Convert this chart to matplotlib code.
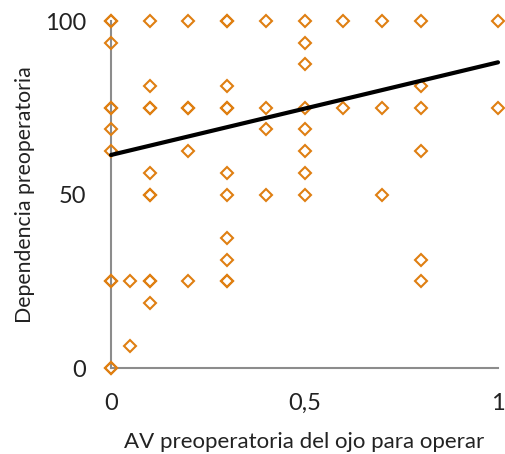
import numpy as np
import matplotlib
matplotlib.use("Agg")
import matplotlib.pyplot as plt

plt.rcParams['font.family'] = ['Lato', 'DejaVu Sans']

# visual acuity of the eye to operate vs. preoperative dependence score
av = [0, 0, 0.1, 0.2, 0.3, 0.3, 0.4, 0.5, 0.6, 0.7, 0.8, 1.0,
      0, 0.5,
      0.5,
      0.1, 0.3, 0.8,
      0, 0, 0.1, 0.1, 0.2, 0.2, 0.3, 0.3, 0.4, 0.5, 0.6, 0.7, 0.8, 1.0,
      0, 0.4, 0.5,
      0, 0.2, 0.5, 0.8,
      0.1, 0.3, 0.5,
      0.1, 0.1, 0.3, 0.4, 0.5, 0.7,
      0.3,
      0.3, 0.8,
      0, 0, 0.05, 0.1, 0.1, 0.2, 0.3, 0.3, 0.8,
      0.1,
      0.05,
      0, 0]
dep = [100, 100, 100, 100, 100, 100, 100, 100, 100, 100, 100, 100,
       93.75, 93.75,
       87.5,
       81.25, 81.25, 81.25,
       75, 75, 75, 75, 75, 75, 75, 75, 75, 75, 75, 75, 75, 75,
       68.75, 68.75, 68.75,
       62.5, 62.5, 62.5, 62.5,
       56.25, 56.25, 56.25,
       50, 50, 50, 50, 50, 50,
       37.5,
       31.25, 31.25,
       25, 25, 25, 25, 25, 25, 25, 25, 25,
       18.75,
       6.25,
       0, 0]

# linear trend line
trend_x = [0, 1]
trend_y = [61.4, 88.1]

x_ticks = [0, 0.5, 1]
x_tick_labels = ['0', '0,5', '1']
y_ticks = [0, 50, 100]

fig = plt.figure(figsize=(5.06, 4.54), dpi=100)
ax = fig.add_axes([0.2194, 0.1894, 0.7648, 0.7643])

ax.plot(av, dep, linestyle='none', marker='D', markersize=5.8,
        markerfacecolor='none', markeredgecolor='#DF7F12',
        markeredgewidth=1.5, clip_on=False, zorder=3)
ax.plot(trend_x, trend_y, color='black', linewidth=3,
        solid_capstyle='round', zorder=4, clip_on=False)

ax.set_xlim(0, 1)
ax.set_ylim(0, 100)
ax.set_xticks(x_ticks)
ax.set_xticklabels(x_tick_labels)
ax.set_yticks(y_ticks)
ax.tick_params(axis='both', length=0, labelsize=17, colors='#222222')
ax.tick_params(axis='x', pad=18)
ax.tick_params(axis='y', pad=18)

for side in ['top', 'right']:
    ax.spines[side].set_visible(False)
for side in ['left', 'bottom']:
    ax.spines[side].set_color('#8c8c8c')
    ax.spines[side].set_linewidth(1.5)

ax.set_xlabel('AV preoperatoria del ojo para operar', fontsize=16,
              color='#222222', labelpad=13)
ax.set_ylabel('Dependencia preoperatoria', fontsize=15.3,
              color='#222222', labelpad=7)

fig.savefig('out.png', dpi=100)
